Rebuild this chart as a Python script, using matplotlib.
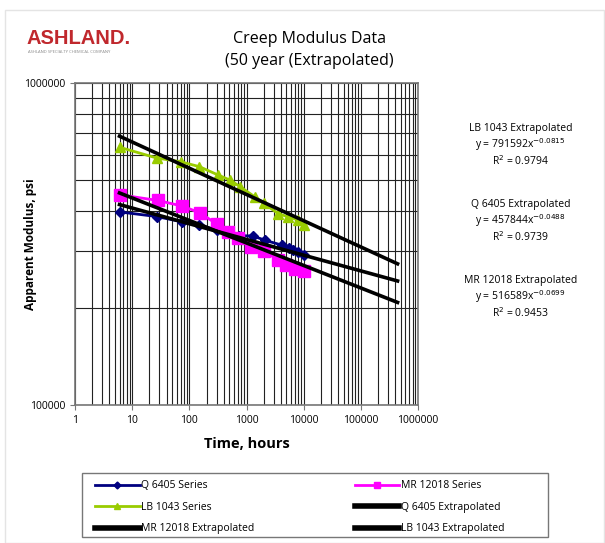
import matplotlib.pyplot as plt
import numpy as np
from matplotlib.patches import Rectangle
from matplotlib.lines import Line2D
from matplotlib.ticker import LogLocator, FixedLocator, NullFormatter

plt.rcParams['font.family'] = ['Open Sans', 'DejaVu Sans']

# 측정 데이터 (hours, psi)
q_time = [6, 27, 73, 150, 300, 500, 750, 1300, 2100, 4100, 5500, 6600, 8000, 10000]
q_mod = [398000, 385000, 371000, 362000, 350000, 342000, 336000, 335000, 325000,
         314000, 308000, 303000, 298000, 292000]

mr_time = [6, 28, 75, 155, 300, 480, 720, 1200, 2000, 3600, 5000, 7000, 10000]
mr_mod = [450000, 432000, 415000, 395000, 365000, 345000, 330000, 310000, 300000,
          283000, 272000, 265000, 260000]

lb_time = [6, 27, 70, 150, 320, 510, 770, 1400, 2000, 3600, 5400, 8000, 10000]
lb_mod = [632000, 585000, 570000, 550000, 518000, 500000, 477000, 443000, 423000,
          393000, 384000, 376000, 362000]

# 추세선 (power fit, Excel)
fit_names = ['LB 1043 Extrapolated', 'Q 6405 Extrapolated', 'MR 12018 Extrapolated']
fit_a = [791592, 457844, 516589]
fit_b = [-0.0815, -0.0488, -0.0699]
fit_r2 = ['0.9794', '0.9739', '0.9453']
fit_range = [6, 438000]

fig = plt.figure(figsize=(6.05, 5.43), dpi=100)
fig.patches.append(Rectangle((0.008, 0.0), 0.99, 0.982, transform=fig.transFigure,
                             fill=False, edgecolor='#e4e4e4', lw=1))

ax = fig.add_axes([0.124, 0.254, 0.567, 0.593])
ax.set_xscale('log')
ax.set_yscale('log')
ax.set_xlim(1, 1000000)
ax.set_ylim(100000, 1000000)

ax.plot(q_time, q_mod, color='#000080', marker='D', ms=5, lw=2)
ax.plot(mr_time, mr_mod, color='#ff00ff', marker='s', ms=8, lw=2)
ax.plot(lb_time, lb_mod, color='#99cc00', marker='^', ms=7.5, lw=2)

xs = np.array(fit_range, dtype=float)
for a, b in zip(fit_a, fit_b):
    ax.plot(xs, a * xs ** b, color='black', lw=2.6, zorder=5)

ax.set_xticks([1, 10, 100, 1000, 10000, 100000, 1000000])
ax.set_xticklabels(['1', '10', '100', '1000', '10000', '100000', '1000000'])
ax.xaxis.set_minor_locator(LogLocator(base=10, subs=np.arange(2, 10), numticks=20))
ax.xaxis.set_minor_formatter(NullFormatter())
ax.set_yticks([100000, 1000000])
ax.set_yticklabels(['100000', '1000000'])
ax.yaxis.set_minor_locator(FixedLocator([200000, 300000, 400000, 500000, 600000,
                                         700000, 800000, 900000]))
ax.yaxis.set_minor_formatter(NullFormatter())
ax.grid(True, which='both', color='#222222', lw=0.8)
ax.tick_params(which='both', direction='out', labelsize=7.5, color='#777777')
ax.tick_params(which='minor', length=0)
for s in ax.spines.values():
    s.set_color('#777777')
    s.set_linewidth(1.2)

ax.set_xlabel('Time, hours', fontsize=10.5, fontweight='bold', labelpad=8)
ax.set_ylabel('Apparent Modulus, psi', fontsize=8.5, fontweight='bold')
ax.yaxis.set_label_coords(-0.11, 0.5)

fig.text(0.512, 0.928, 'Creep Modulus Data', ha='center', va='center', fontsize=11.5)
fig.text(0.512, 0.887, '(50 year (Extrapolated)', ha='center', va='center', fontsize=11.5)

# 로고
fig.text(0.043, 0.929, 'ASHLAND.', ha='left', va='center', fontsize=14.5,
         fontweight='bold', color='#c0282d', family='Liberation Sans')
fig.text(0.047, 0.905, 'ASHLAND SPECIALTY CHEMICAL COMPANY', ha='left', va='center',
         fontsize=3, color='#888888')

ann_y = [0.764, 0.623, 0.484]
for name, a, b, r2, y in zip(fit_names, fit_a, fit_b, fit_r2, ann_y):
    fig.text(0.860, y, name, ha='center', va='center', fontsize=7.5)
    fig.text(0.860, y - 0.030, 'y = %dx$^{%.4f}$' % (a, b),
             ha='center', va='center', fontsize=7.5)
    fig.text(0.860, y - 0.060, 'R$^2$ = ' + r2, ha='center', va='center', fontsize=7.5)

# 범례 (열 순서: 왼쪽 / 오른쪽)
h_q = Line2D([], [], color='#000080', marker='D', ms=3.5, lw=2)
h_mr = Line2D([], [], color='#ff00ff', marker='s', ms=5, lw=2)
h_lb = Line2D([], [], color='#99cc00', marker='^', ms=5, lw=2)
h_fit = [Line2D([], [], color='black', lw=4) for _ in range(3)]
handles = [h_q, h_lb, h_fit[0], h_mr, h_fit[1], h_fit[2]]
labels = ['Q 6405 Series', 'LB 1043 Series', 'MR 12018 Extrapolated',
          'MR 12018 Series', 'Q 6405 Extrapolated', 'LB 1043 Extrapolated']
fig.legend(handles=handles, labels=labels, ncol=2, loc='upper left',
           bbox_to_anchor=(0.150, 0.123), fontsize=7.5, frameon=False,
           borderpad=0.4, borderaxespad=0, handlelength=4.3, columnspacing=9.6,
           labelspacing=1.0, handletextpad=0.15)
fig.patches.append(Rectangle((0.136, 0.011), 0.770, 0.118, transform=fig.transFigure,
                             fill=False, edgecolor='#777777', lw=1))

fig.savefig('out.png', dpi=100)
